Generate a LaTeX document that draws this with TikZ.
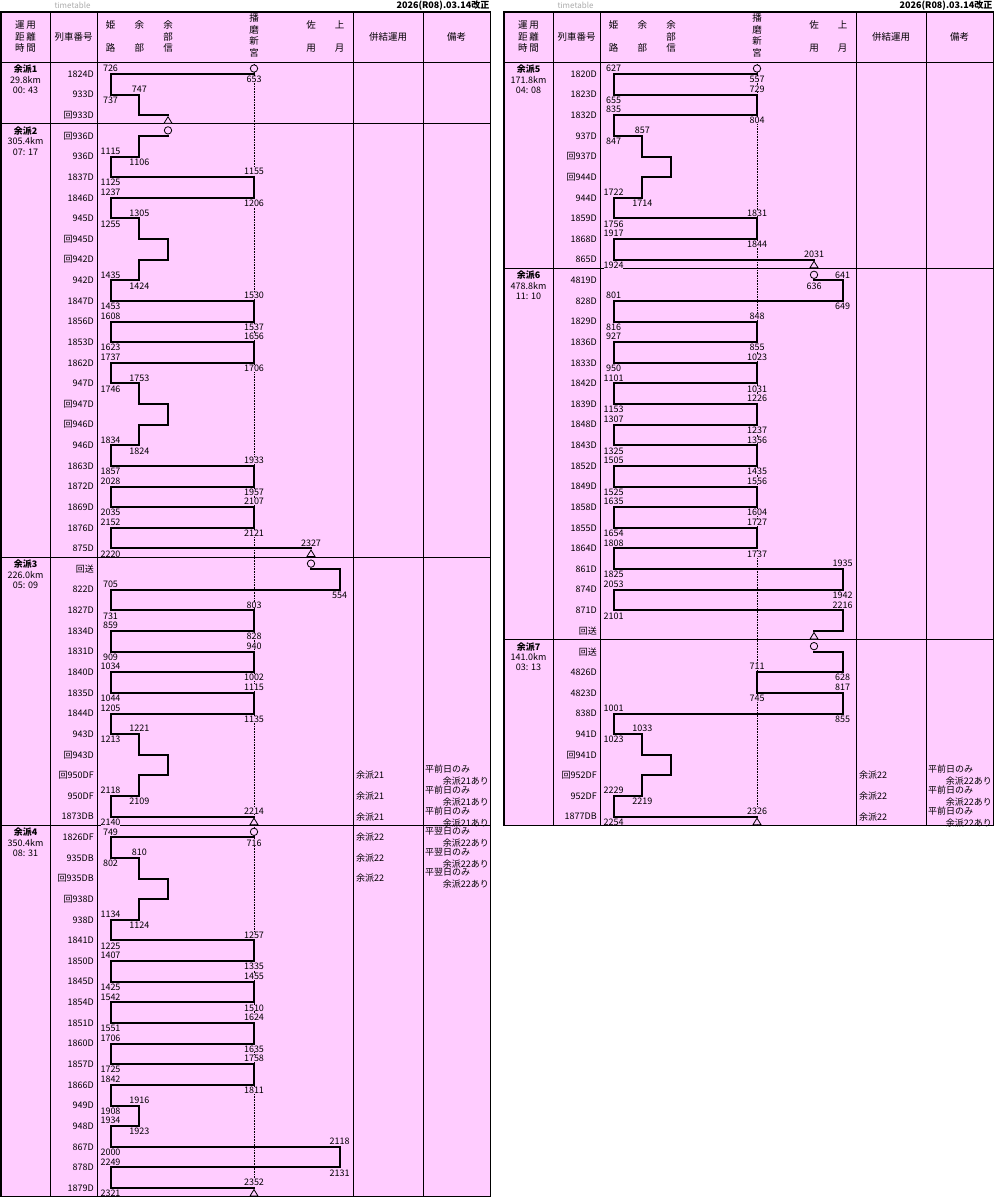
\documentclass[tikz,border=0pt]{standalone}
\usepackage{fontspec}
\setmainfont{Noto Sans CJK JP}
\definecolor{unyoPink}{RGB}{255,204,255}
\definecolor{ttGray}{RGB}{170,170,170}
\tikzset{
	rule/.style={line width=0.8pt},
	unyo/.style={line width=2pt, line cap=rect},
	tlabel/.style={inner sep=0pt, fill=unyoPink, font=\fontsize{9}{9}\selectfont},
	plain/.style={inner sep=0pt, font=\fontsize{9}{9}\selectfont},
	hdr/.style={inner sep=0pt, font=\fontsize{9.5}{9.5}\selectfont},
	startmark/.style={circle, draw, line width=0.8pt, fill=unyoPink, minimum size=7.4pt, inner sep=0pt},
	endmark/.style={line width=0.8pt, fill=unyoPink},
}

\begin{document}
\begin{tikzpicture}[x=1pt,y=-1pt]
	\newcommand{\stH}{110.5}	% 姫路
	\newcommand{\stA}{139.3}	% 余部
	\newcommand{\stS}{168}		% 余部信
	\newcommand{\stN}{254}		% 播磨新宮
	\newcommand{\stY}{311}		% 佐用
	\newcommand{\stK}{339.7}	% 上月
	\newcommand{\rowH}{20.63}	% row pitch
	
	% frame and header of one panel, #1 = bottom edge
	\newcommand{\panelFrame}[1]{
		\fill[unyoPink] (1,12) rectangle (490.5,#1);		% background
		\draw[densely dotted, line width=0.6pt] (\stN,62) -- (\stN,#1);	% 播磨新宮 guide
		\foreach \cx in {50,97,353,423} \draw[rule] (\cx,12) -- (\cx,#1);
		\draw[rule] (1,62) -- (490.5,62);
		\node[inner sep=0pt, text=ttGray, font=\fontsize{8}{8}\selectfont] (tt) at (72.5,5) {timetable};
		\node[inner sep=0pt, anchor=east, font=\fontsize{9}{9}\selectfont\bfseries] (rev) at (489.5,6) {2026(R08).03.14改正};
		
		% header cells
		\node[hdr] (h1a) at (25.5,25.5) {運\,用};
		\node[hdr] (h1b) at (25.5,36.5) {距\,離};
		\node[hdr] (h1c) at (25.5,47.5) {時\,間};
		\node[hdr] (h2) at (73.5,37) {列車番号};
		\foreach \sx/\ca/\cb/\k in {\stH/姫/路/1, \stA/余/部/2, \stY/佐/用/3, \stK/上/月/4} {
			\node[hdr] (sa\k) at (\sx,25) {\ca};
			\node[hdr] (sb\k) at (\sx,48) {\cb};
		}
		\node[hdr] (ss1) at (\stS,25) {余};
		\node[hdr] (ss2) at (\stS,36.5) {部};
		\node[hdr] (ss3) at (\stS,48) {信};
		\node[hdr] (sn1) at (\stN,18) {播};
		\node[hdr] (sn2) at (\stN,29.5) {磨};
		\node[hdr] (sn3) at (\stN,41) {新};
		\node[hdr] (sn4) at (\stN,52.5) {宮};
		\node[hdr] (h3) at (388,37) {併結運用};
		\node[hdr] (h4) at (456.5,37) {備考};
	}
	
	% 運用 cells: first row / name / distance / time
	\newcommand{\unyoCells}[1]{
		\foreach \s/\nm/\km/\tim in {#1}{
			\pgfmathsetmacro{\sy}{62+\rowH*\s}
			\draw[rule] (1,\sy) -- (490.5,\sy);
			\node[plain, font=\fontsize{9}{9}\selectfont\bfseries] (nm\s) at (25.5,\sy+7) {\nm};
			\node[plain] (km\s) at (25.5,\sy+17.5) {\km};
			\node[plain] (tm\s) at (25.5,\sy+28) {\tim};
		}
	}
	
	% train rows: row / train / from / to / arrival / departure / first of 運用
	\newcommand{\unyoRows}[1]{
		\foreach \i/\tn/\fx/\tx/\tup/\tdn/\cont in {#1}{
			\pgfmathsetmacro{\ry}{74+\rowH*\i}
			\pgfmathsetmacro{\xf}{\csname st\fx\endcsname}
			\pgfmathsetmacro{\xt}{\csname st\tx\endcsname}
			\pgfmathtruncatemacro{\prev}{\i-1}
			\node[plain, anchor=east] (tn\i) at (94,\ry) {\tn};
			\coordinate (a\i) at (\xf,\ry);
			\coordinate (b\i) at (\xt,\ry);
			\ifnum\cont=0 \draw[unyo] (b\prev) -- (a\i); \fi
			\draw[unyo] (a\i) -- (b\i);
			\node[tlabel] (ar\i) at (\xt,\ry-5.5) {\tup};
			\node[tlabel] (dp\i) at (\xf,\ry+5.5) {\tdn};
		}
	}
	
	% start circles and end triangles
	\newcommand{\unyoMarks}[2]{
		\foreach \sn/\i in {#1}{
			\pgfmathsetmacro{\ry}{74+\rowH*\i}
			\pgfmathsetmacro{\xs}{\csname st\sn\endcsname}
			\node[startmark] (beg\i) at (\xs,\ry-5.5) {};
		}
		\foreach \sn/\i in {#2}{
			\pgfmathsetmacro{\ry}{74+\rowH*\i}
			\pgfmathsetmacro{\xs}{\csname st\sn\endcsname}
			\draw[endmark] (\xs,\ry+1.5) -- (\xs-4,\ry+8) -- (\xs+4,\ry+8) -- cycle;
		}
	}
	
	% 併結運用 and 備考
	\newcommand{\unyoNotes}[1]{
		\foreach \i/\hk/\na/\nb in {#1}{
			\pgfmathsetmacro{\ry}{74+\rowH*\i}
			\node[plain, anchor=west] (hk\i) at (356,\ry) {\hk};
			\node[plain, anchor=west] (na\i) at (425,\ry-6) {\na};
			\node[plain, anchor=east] (nb\i) at (489,\ry+6) {\nb};
		}
	}
	
	\useasboundingbox (0,0) rectangle (995,1200);
	
	% left panel
	\begin{scope}[name prefix=L-]
		\panelFrame{1196.65}
		\unyoCells{0/余派1/29.8km/00: 43, 3/余派2/305.4km/07: 17, 24/余派3/226.0km/05: 09, 37/余派4/350.4km/08: 31}
		\unyoRows{0/1824D/N/H/726/653/1, 1/933D/H/A/747/737/0, 2/回933D/A/S/{}/{}/0,
			3/回936D/S/A/{}/{}/1, 4/936D/A/H/1115/1106/0, 5/1837D/H/N/1155/1125/0, 6/1846D/N/H/1237/1206/0,
			7/945D/H/A/1305/1255/0, 8/回945D/A/S/{}/{}/0, 9/回942D/S/A/{}/{}/0, 10/942D/A/H/1435/1424/0,
			11/1847D/H/N/1530/1453/0, 12/1856D/N/H/1608/1537/0, 13/1853D/H/N/1656/1623/0, 14/1862D/N/H/1737/1706/0,
			15/947D/H/A/1753/1746/0, 16/回947D/A/S/{}/{}/0, 17/回946D/S/A/{}/{}/0, 18/946D/A/H/1834/1824/0,
			19/1863D/H/N/1933/1857/0, 20/1872D/N/H/2028/1957/0, 21/1869D/H/N/2107/2035/0, 22/1876D/N/H/2152/2121/0,
			23/875D/H/Y/2327/2220/0,
			24/回送/Y/K/{}/{}/1, 25/822D/K/H/705/554/0, 26/1827D/H/N/803/731/0, 27/1834D/N/H/859/828/0,
			28/1831D/H/N/940/909/0, 29/1840D/N/H/1034/1002/0, 30/1835D/H/N/1115/1044/0, 31/1844D/N/H/1205/1135/0,
			32/943D/H/A/1221/1213/0, 33/回943D/A/S/{}/{}/0, 34/回950DF/S/A/{}/{}/0, 35/950DF/A/H/2118/2109/0,
			36/1873DB/H/N/2214/2140/0,
			37/1826DF/N/H/749/716/1, 38/935DB/H/A/810/802/0, 39/回935DB/A/S/{}/{}/0, 40/回938D/S/A/{}/{}/0,
			41/938D/A/H/1134/1124/0, 42/1841D/H/N/1257/1225/0, 43/1850D/N/H/1407/1335/0, 44/1845D/H/N/1455/1425/0,
			45/1854D/N/H/1542/1510/0, 46/1851D/H/N/1624/1551/0, 47/1860D/N/H/1706/1635/0, 48/1857D/H/N/1758/1725/0,
			49/1866D/N/H/1842/1811/0, 50/949D/H/A/1916/1908/0, 51/948D/A/H/1934/1923/0, 52/867D/H/K/2118/2000/0,
			53/878D/K/H/2249/2131/0, 54/1879D/H/N/2352/2321/0}
		\unyoMarks{N/0, S/3, Y/24, N/37}{S/2, Y/23, N/36, N/54}
		\unyoNotes{34/余派21/平前日のみ/余派21あり, 35/余派21/平前日のみ/余派21あり, 36/余派21/平前日のみ/余派21あり,
			37/余派22/平翌日のみ/余派22あり, 38/余派22/平翌日のみ/余派22あり, 39/余派22/平翌日のみ/余派22あり}
		\draw[line width=1.2pt] (1,12) rectangle (490.5,1196.65);
	\end{scope}
	
	% right panel
	\begin{scope}[xshift=503pt, name prefix=R-]
		\panelFrame{825.3}
		\unyoCells{0/余派5/171.8km/04: 08, 10/余派6/478.8km/11: 10, 28/余派7/141.0km/03: 13}
		\unyoRows{0/1820D/N/H/627/557/1, 1/1823D/H/N/729/655/0, 2/1832D/N/H/835/804/0, 3/937D/H/A/857/847/0,
			4/回937D/A/S/{}/{}/0, 5/回944D/S/A/{}/{}/0, 6/944D/A/H/1722/1714/0, 7/1859D/H/N/1831/1756/0,
			8/1868D/N/H/1917/1844/0, 9/865D/H/Y/2031/1924/0,
			10/4819D/Y/K/641/636/1, 11/828D/K/H/801/649/0, 12/1829D/H/N/848/816/0, 13/1836D/N/H/927/855/0,
			14/1833D/H/N/1023/950/0, 15/1842D/N/H/1101/1031/0, 16/1839D/H/N/1226/1153/0, 17/1848D/N/H/1307/1237/0,
			18/1843D/H/N/1356/1325/0, 19/1852D/N/H/1505/1435/0, 20/1849D/H/N/1556/1525/0, 21/1858D/N/H/1635/1604/0,
			22/1855D/H/N/1727/1654/0, 23/1864D/N/H/1808/1737/0, 24/861D/H/K/1935/1825/0, 25/874D/K/H/2053/1942/0,
			26/871D/H/K/2216/2101/0, 27/回送/K/Y/{}/{}/0,
			28/回送/Y/K/{}/{}/1, 29/4826D/K/N/711/628/0, 30/4823D/N/K/817/745/0, 31/838D/K/H/1001/855/0,
			32/941D/H/A/1033/1023/0, 33/回941D/A/S/{}/{}/0, 34/回952DF/S/A/{}/{}/0, 35/952DF/A/H/2229/2219/0,
			36/1877DB/H/N/2326/2254/0}
		\unyoMarks{N/0, Y/10, Y/28}{Y/9, Y/27, N/36}
		\unyoNotes{34/余派22/平前日のみ/余派22あり, 35/余派22/平前日のみ/余派22あり, 36/余派22/平前日のみ/余派22あり}
		\draw[line width=1.2pt] (1,12) rectangle (490.5,825.3);
	\end{scope}
\end{tikzpicture}
\end{document}
